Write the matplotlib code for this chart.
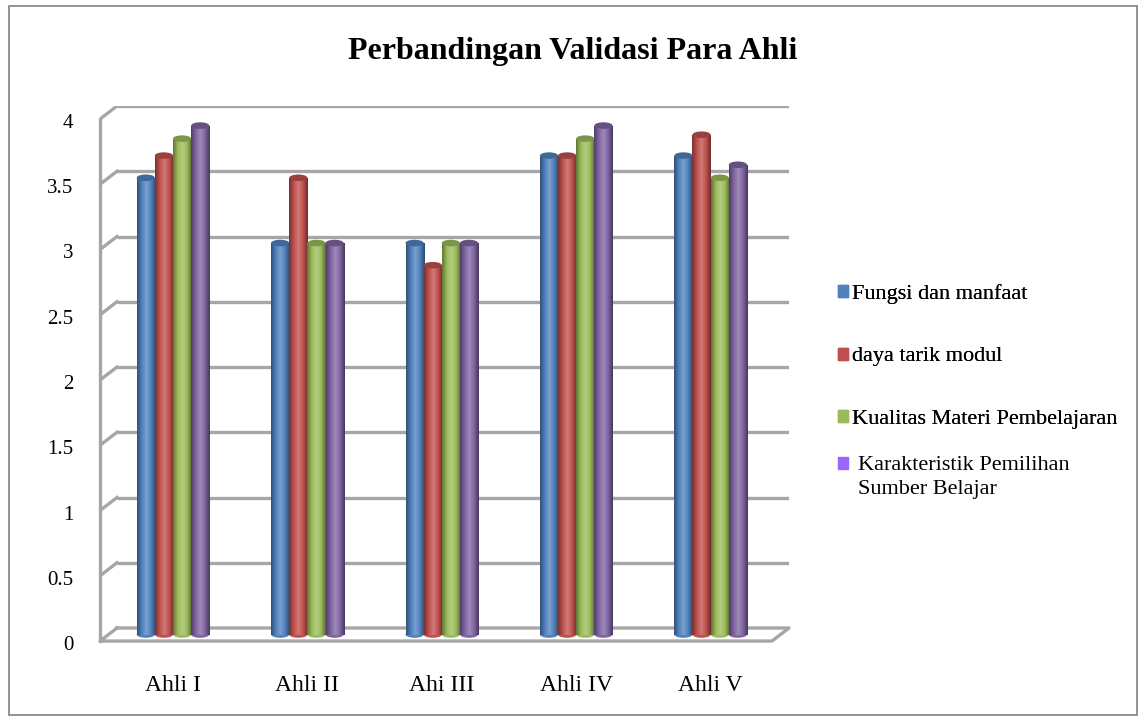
import numpy as np
import matplotlib
matplotlib.use("Agg")
import matplotlib.pyplot as plt
from matplotlib.colors import LinearSegmentedColormap, to_rgb
from matplotlib.patches import Ellipse, Rectangle
from matplotlib.legend_handler import HandlerPatch
from matplotlib.transforms import ScaledTranslation

categories = ["Ahli I", "Ahli II", "Ahi III", "Ahli IV", "Ahli V"]
series_names = ["Fungsi dan manfaat", "daya tarik modul",
                "Kualitas Materi Pembelajaran",
                "Karakteristik Pemilihan\nSumber Belajar"]
fungsi = [3.5, 3.0, 3.0, 3.67, 3.67]
daya_tarik = [3.67, 3.5, 2.83, 3.67, 3.83]
kualitas = [3.8, 3.0, 3.0, 3.8, 3.5]
karakteristik = [3.9, 3.0, 3.0, 3.9, 3.6]
yticks = [0, 0.5, 1, 1.5, 2, 2.5, 3, 3.5, 4]

series = [fungsi, daya_tarik, kualitas, karakteristik]
colors = ["#4F81BD", "#C0504D", "#9BBB59", "#8064A2"]
legend_colors = ["#4F81BD", "#C0504D", "#9BBB59", "#9966FF"]
grid_c = "#A6A6A6"

plt.rcParams['font.family'] = ['Liberation Serif', 'DejaVu Serif']

fig = plt.figure(figsize=(11.46, 7.21), dpi=100)
fig.patches.append(Rectangle((0.008, 0.008), 0.984, 0.984, transform=fig.transFigure,
                             fill=False, edgecolor="#808080", lw=1.2))
ax = fig.add_axes([100 / 1146, 93 / 721, 689 / 1146, 522 / 721])

w = 0.135
x = np.arange(len(categories))
xmin, xmax = -0.543, 4.583
dx, dy = 0.1265, 0.1   # depth offset of the 3D wall/floor
base = -dy / 2         # bars stand halfway into the floor depth


def shade_cmap(c):
    r = np.array(to_rgb(c))
    dark = r * 0.62
    light = np.clip(r + (1 - r) * 0.25, 0, 1)
    return LinearSegmentedColormap.from_list("s", [dark, r, light, r, dark * 0.9])


# wall gridlines with the slanted corner
for t in yticks[1:]:
    ax.plot([xmin + dx, xmax], [t, t], color=grid_c, lw=2.4, zorder=1, solid_capstyle='butt')
    ax.plot([xmin, xmin + dx], [t - dy, t], color=grid_c, lw=2.4, zorder=1)
# left wall edge
ax.plot([xmin, xmin], [-dy, yticks[-1] - dy], color=grid_c, lw=2.4, zorder=1, clip_on=False)
# floor
ax.plot([xmin + dx, xmax, xmax - dx, xmin, xmin + dx], [0, 0, -dy, -dy, 0],
        color=grid_c, lw=2.4, zorder=1, clip_on=False)

for i, vals in enumerate(series):
    xs = x + (i - 1.5) * w
    bars = ax.bar(xs, vals, width=w, bottom=base, color=colors[i], zorder=3, clip_on=False)
    cm = shade_cmap(colors[i])
    grad = np.linspace(0, 1, 64).reshape(1, -1)
    for b, v in zip(bars, vals):
        im = ax.imshow(grad, extent=[b.get_x(), b.get_x() + w, base, base + v], aspect='auto',
                       cmap=cm, zorder=3.5, interpolation='bicubic')
        im.set_clip_path(b)
        top_c = np.array(to_rgb(colors[i])) * 0.8
        ax.add_patch(Ellipse((b.get_x() + w / 2, base + v), w, 0.05, facecolor=top_c,
                             edgecolor='none', zorder=4))
        ax.add_patch(Ellipse((b.get_x() + w / 2, base), w, 0.05, facecolor=colors[i],
                             edgecolor='none', zorder=2.9, clip_on=False))

ax.set_xlim(xmin, xmax)
ax.set_ylim(0, 4)
ax.set_yticks(yticks)
ax.set_yticklabels([f"{t:g}" for t in yticks], fontsize=15)
ax.set_xticks(x)
ax.set_xticklabels(categories, fontsize=17)
ax.tick_params(axis='both', length=0)
ax.tick_params(axis='x', pad=34)
ax.tick_params(axis='y', pad=19)
shift = ScaledTranslation(0, -0.15, fig.dpi_scale_trans)
for lab in ax.get_yticklabels():
    lab.set_transform(lab.get_transform() + shift)
for s in ax.spines.values():
    s.set_visible(False)

fig.suptitle("Perbandingan Validasi Para Ahli", fontsize=23, fontweight='bold', y=0.948)

handles = [Rectangle((0, 0), 1, 1, color=c) for c in legend_colors]
leg1 = fig.legend(handles[:3], series_names[:3], loc='upper left',
                  bbox_to_anchor=(838 / 1146, 1 - 284 / 721), frameon=False, fontsize=16,
                  handlelength=0.45, handleheight=0.45, handletextpad=0.2,
                  labelspacing=1.96, borderpad=0, borderaxespad=0)


def top_square(legend, orig_handle, xdescent, ydescent, width, height, fontsize):
    return Rectangle((-xdescent, -ydescent + 0.6 * fontsize), width, height)


leg2 = fig.legend(handles[3:], series_names[3:], loc='upper left',
                  bbox_to_anchor=(838 / 1146, 1 - 456 / 721), frameon=False, fontsize=16,
                  handlelength=0.45, handleheight=0.45, handletextpad=0.45,
                  borderpad=0, borderaxespad=0,
                  handler_map={Rectangle: HandlerPatch(patch_func=top_square)})
leg2.get_texts()[0].set_linespacing(1.35)
fig.add_artist(leg1)

fig.savefig("out.png", dpi=100)
